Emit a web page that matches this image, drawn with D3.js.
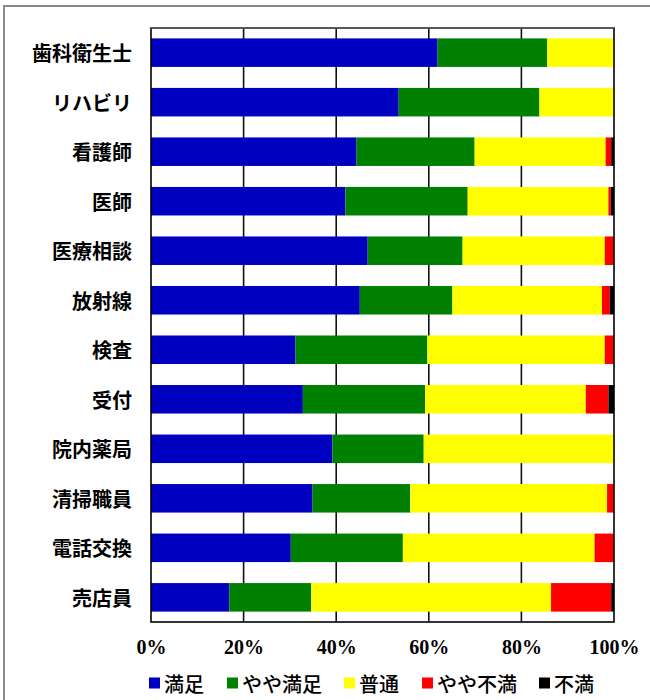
<!DOCTYPE html>
<html>
<head>
<meta charset="utf-8">
<script src="https://cdn.jsdelivr.net/npm/d3@7"></script>
<style>
  html, body { margin: 0; padding: 0; background: #fff; }
  svg { display: block; }
</style>
</head>
<body>
<svg id="chart" width="650" height="700"></svg>
<script>
const categories = ["歯科衛生士","リハビリ","看護師","医師","医療相談","放射線","検査","受付","院内薬局","清掃職員","電話交換","売店員"];
const seriesNames = ["満足","やや満足","普通","やや不満","不満"];
const manzoku     = [61.9, 53.5, 44.4, 42.0, 46.8, 45.1, 31.2, 32.8, 39.2, 34.9, 30.2, 16.9];
const yayaManzoku = [23.7, 30.4, 25.5, 26.4, 20.5, 20.0, 28.5, 26.4, 19.7, 21.1, 24.2, 17.7];
const futsu       = [14.4, 16.1, 28.3, 30.4, 30.7, 32.3, 38.3, 34.7, 41.1, 42.5, 41.4, 51.8];
const yayaFuman   = [0.0, 0.0, 1.2, 0.5, 2.0, 1.7, 2.0, 4.9, 0.0, 1.5, 4.2, 13.0];
const fuman       = [0.0, 0.0, 0.6, 0.7, 0.0, 0.9, 0.0, 1.2, 0.0, 0.0, 0.0, 0.6];
const tickValues = [0, 20, 40, 60, 80, 100];
const tickLabels = ["0%","20%","40%","60%","80%","100%"];
const colors = ["#0000C0","#008000","#FFFF00","#FF0000","#000000"];

const seriesValues = [manzoku, yayaManzoku, futsu, yayaFuman, fuman];
const rows = categories.map((c, i) => {
  const r = { cat: c };
  seriesNames.forEach((s, j) => r[s] = seriesValues[j][i]);
  return r;
});

const svg = d3.select("#chart");
const pLeft = 151, pRight = 614, pTop = 28, pBottom = 622;

// outer chart border
svg.append("rect").attr("x", 4).attr("y", 6).attr("width", 700).attr("height", 720)
  .attr("fill", "#fff").attr("stroke", "#8a8a8a").attr("stroke-width", 2);

const x = d3.scaleLinear().domain([0, 100]).range([pLeft, pRight]);
const y = d3.scaleBand().domain(categories).range([pTop, pBottom])
  .paddingInner(0.424).paddingOuter(0.21);

// gridlines
svg.append("g").selectAll("line").data(tickValues.slice(1, -1)).join("line")
  .attr("x1", d => x(d)).attr("x2", d => x(d))
  .attr("y1", pTop).attr("y2", pBottom)
  .attr("stroke", "#111").attr("stroke-width", 1.6);

// bars
const stack = d3.stack().keys(seriesNames)(rows);
svg.append("g").selectAll("g").data(stack).join("g")
  .attr("fill", (d, i) => colors[i])
  .selectAll("rect").data(d => d).join("rect")
  .attr("x", d => x(d[0]))
  .attr("width", d => Math.max(0, x(d[1]) - x(d[0])))
  .attr("y", d => y(d.data.cat))
  .attr("height", y.bandwidth());

// plot border
svg.append("rect").attr("x", pLeft).attr("y", pTop)
  .attr("width", pRight - pLeft).attr("height", pBottom - pTop)
  .attr("fill", "none").attr("stroke", "#000").attr("stroke-width", 1.6);
svg.append("line").attr("x1", pLeft).attr("x2", pRight).attr("y1", pTop).attr("y2", pTop)
  .attr("stroke", "#666").attr("stroke-width", 1.6);

// category labels
svg.append("g").selectAll("text").data(categories).join("text")
  .attr("x", 132).attr("y", d => y(d) + y.bandwidth() / 2)
  .attr("text-anchor", "end").attr("dominant-baseline", "central")
  .attr("font-family", "'Noto Sans CJK JP', sans-serif")
  .attr("font-weight", "bold").attr("font-size", 20).attr("fill", "#000")
  .text(d => d);

// x axis tick labels
const xAxis = d3.axisBottom(x).tickValues(tickValues)
  .tickFormat((d, i) => tickLabels[i]).tickSize(0).tickPadding(0);
const gx = svg.append("g").attr("transform", `translate(0, ${pBottom + 18})`).call(xAxis);
gx.select(".domain").remove();
gx.selectAll("text")
  .attr("font-family", "'Liberation Serif', 'Times New Roman', serif")
  .attr("font-weight", "bold").attr("font-size", 20).attr("fill", "#000");

// legend
const legendX = [149, 227, 344, 422, 539];
const lg = svg.append("g").selectAll("g").data(seriesNames).join("g")
  .attr("transform", (d, i) => `translate(${legendX[i]}, 683)`);
lg.append("rect").attr("x", 0).attr("y", -5.5).attr("width", 11).attr("height", 11)
  .attr("fill", (d, i) => colors[i]);
lg.append("text").attr("x", 15).attr("y", 0).attr("dominant-baseline", "central")
  .attr("font-family", "'Noto Sans CJK JP', sans-serif")
  .attr("font-weight", 500).attr("font-size", 20).attr("fill", "#000")
  .text(d => d);
</script>
</body>
</html>
